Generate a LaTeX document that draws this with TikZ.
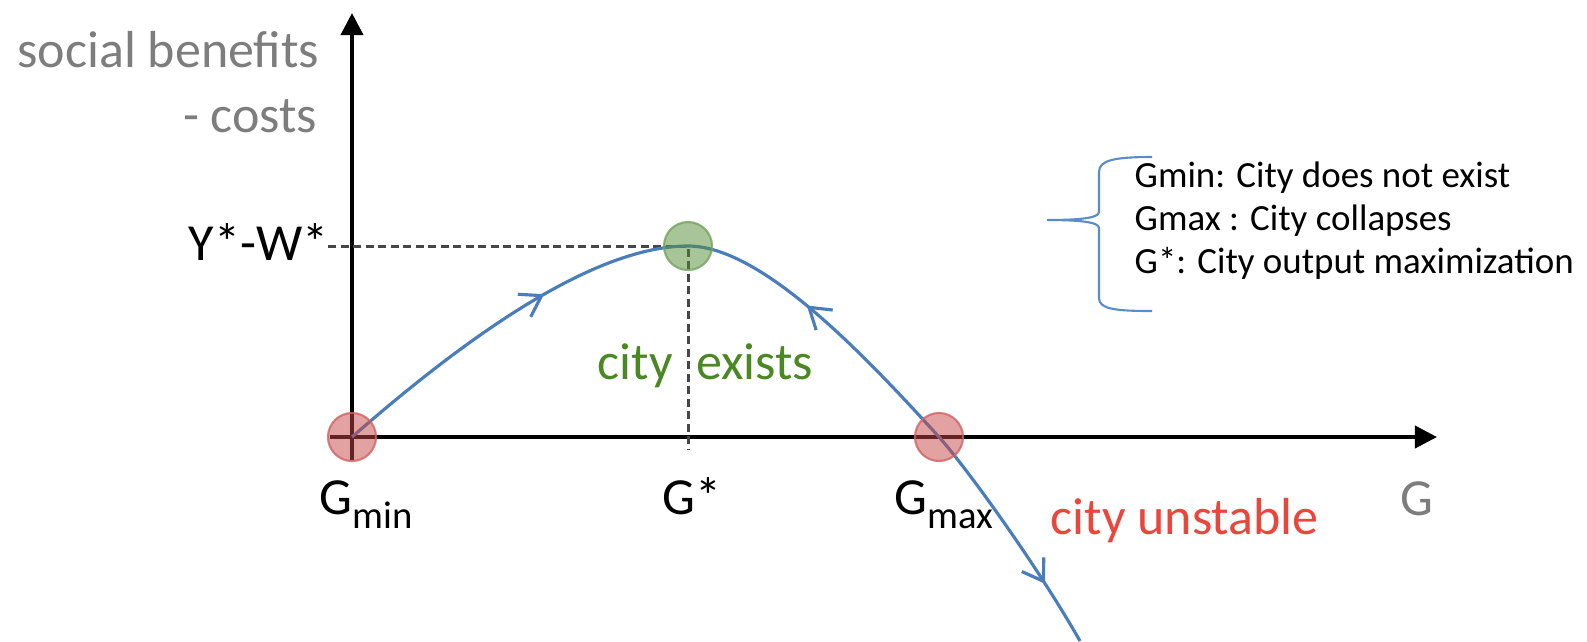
\documentclass[tikz,border=0pt]{standalone}
\usepackage{fontspec}
\setmainfont{Carlito}
\usetikzlibrary{arrows.meta, decorations.markings}

\definecolor{curveblue}{RGB}{74,126,187}
\definecolor{braceblue}{RGB}{91,139,200}
\definecolor{labelgray}{RGB}{125,125,125}
\definecolor{dashgray}{RGB}{70,70,70}
\definecolor{existgreen}{RGB}{75,135,35}
\definecolor{unstablered}{RGB}{235,70,60}
\definecolor{ptred}{RGB}{200,70,70}
\definecolor{ptgreen}{RGB}{80,140,50}

\newcommand{\lowsub}[1]{\raisebox{-0.14cm}{\fontsize{11}{11}\selectfont #1}}

\begin{document}
\begin{tikzpicture}[x=0.01cm, y=-0.01cm,
  biglabel/.style={font=\fontsize{14.8}{17.8}\selectfont, inner sep=0},
  note/.style={font=\fontsize{10.5}{12.5}\selectfont, inner sep=0, anchor=base west},
  axis/.style={line width=1.1pt, -{Triangle[length=2.2mm,width=2.2mm]}},
  guide/.style={draw=dashgray, line width=0.85pt, dash pattern=on 0.8mm off 0.45mm},
  curve/.style={draw=curveblue, line width=0.9pt},
  tipat/.style={postaction={decorate}, decoration={markings,
      mark=at position #1 with {\arrow{Straight Barb[length=2mm,width=2.6mm]}}}},
  backtipat/.style={postaction={decorate}, decoration={markings,
      mark=at position #1 with {\arrowreversed{Straight Barb[length=2mm,width=2.6mm]}}}},
  redpt/.style={circle, minimum size=0.48cm, inner sep=0, fill=ptred, fill opacity=0.5,
      draw=ptred!85!white, draw opacity=0.8, line width=0.6pt},
  greenpt/.style={circle, minimum size=0.48cm, inner sep=0, fill=ptgreen, fill opacity=0.5,
      draw=ptgreen!80!white, draw opacity=0.8, line width=0.6pt}
]
\useasboundingbox (0,0) rectangle (1587,641);

% points on the axis
\coordinate (gmin) at (352,437);
\coordinate (gstar) at (688,246);
\coordinate (gmax) at (939,437);
\coordinate (curveend) at (1080,641);
\coordinate (ytip) at (352,13);
\coordinate (ybottom) at (352,460);
\coordinate (xleft) at (330,437);
\coordinate (xtip) at (1437,437);
\coordinate (ydash) at (328,246);
\coordinate (gfoot) at (688,450);

% axes
\draw[axis] (ybottom) -- (ytip);
\draw[axis] (xleft) -- (xtip);

% guide lines
\draw[guide] (ydash) -- (gstar) -- (gfoot);

% curve
\draw[curve, tipat=0.61] (gmin) .. controls (480,325) and (600,246) .. (gstar);
\draw[curve, backtipat=0.42] (gstar) .. controls (760,246) and (860,350) .. (gmax);
\draw[curve, tipat=0.73] (gmax) .. controls (965,466) and (1035,562) .. (curveend);

% equilibria
\node[redpt] (gminpt) at (gmin) {};
\node[greenpt] (gstarpt) at (gstar) {};
\node[redpt] (gmaxpt) at (gmax) {};

% labels
\node[biglabel, anchor=base east, text=labelgray] (ylabtop) at (320,67) {social benefits};
\node[biglabel, anchor=base east, text=labelgray] (ylabbot) at (318,132) {- costs};
\node[biglabel, anchor=base east] (ywlab) at (329,260) {Y*-W*};
\node[biglabel, anchor=base west] (gminlab) at (319,514) {G\lowsub{min}};
\node[biglabel, anchor=base west] (gstarlab) at (662,514) {G*};
\node[biglabel, anchor=base west] (gmaxlab) at (894,514) {G\lowsub{max}};
\node[biglabel, anchor=base west, text=labelgray] (glab) at (1400,515) {G};
\node[biglabel, anchor=base west, text=existgreen] (existlab) at (597,379) {city\hspace{0.45em}exists};
\node[biglabel, anchor=base west, text=unstablered] (unstablelab) at (1050,534) {city unstable};

% legend
\draw[braceblue, line width=0.6pt] (1152,157) .. controls (1115,157) and (1099,160) .. (1099,172)
  -- (1099,212) .. controls (1099,218) and (1080,220) .. (1047,220)
  .. controls (1080,220) and (1099,222) .. (1099,228)
  -- (1099,298) .. controls (1099,309) and (1115,311) .. (1152,311);
\node[note] (gminnote) at (1134,187) {Gmin: City does not exist};
\node[note] (gmaxnote) at (1134,230) {Gmax : City collapses};
\node[note] (gstarnote) at (1134,273) {G*: City output maximization};
\end{tikzpicture}
\end{document}
